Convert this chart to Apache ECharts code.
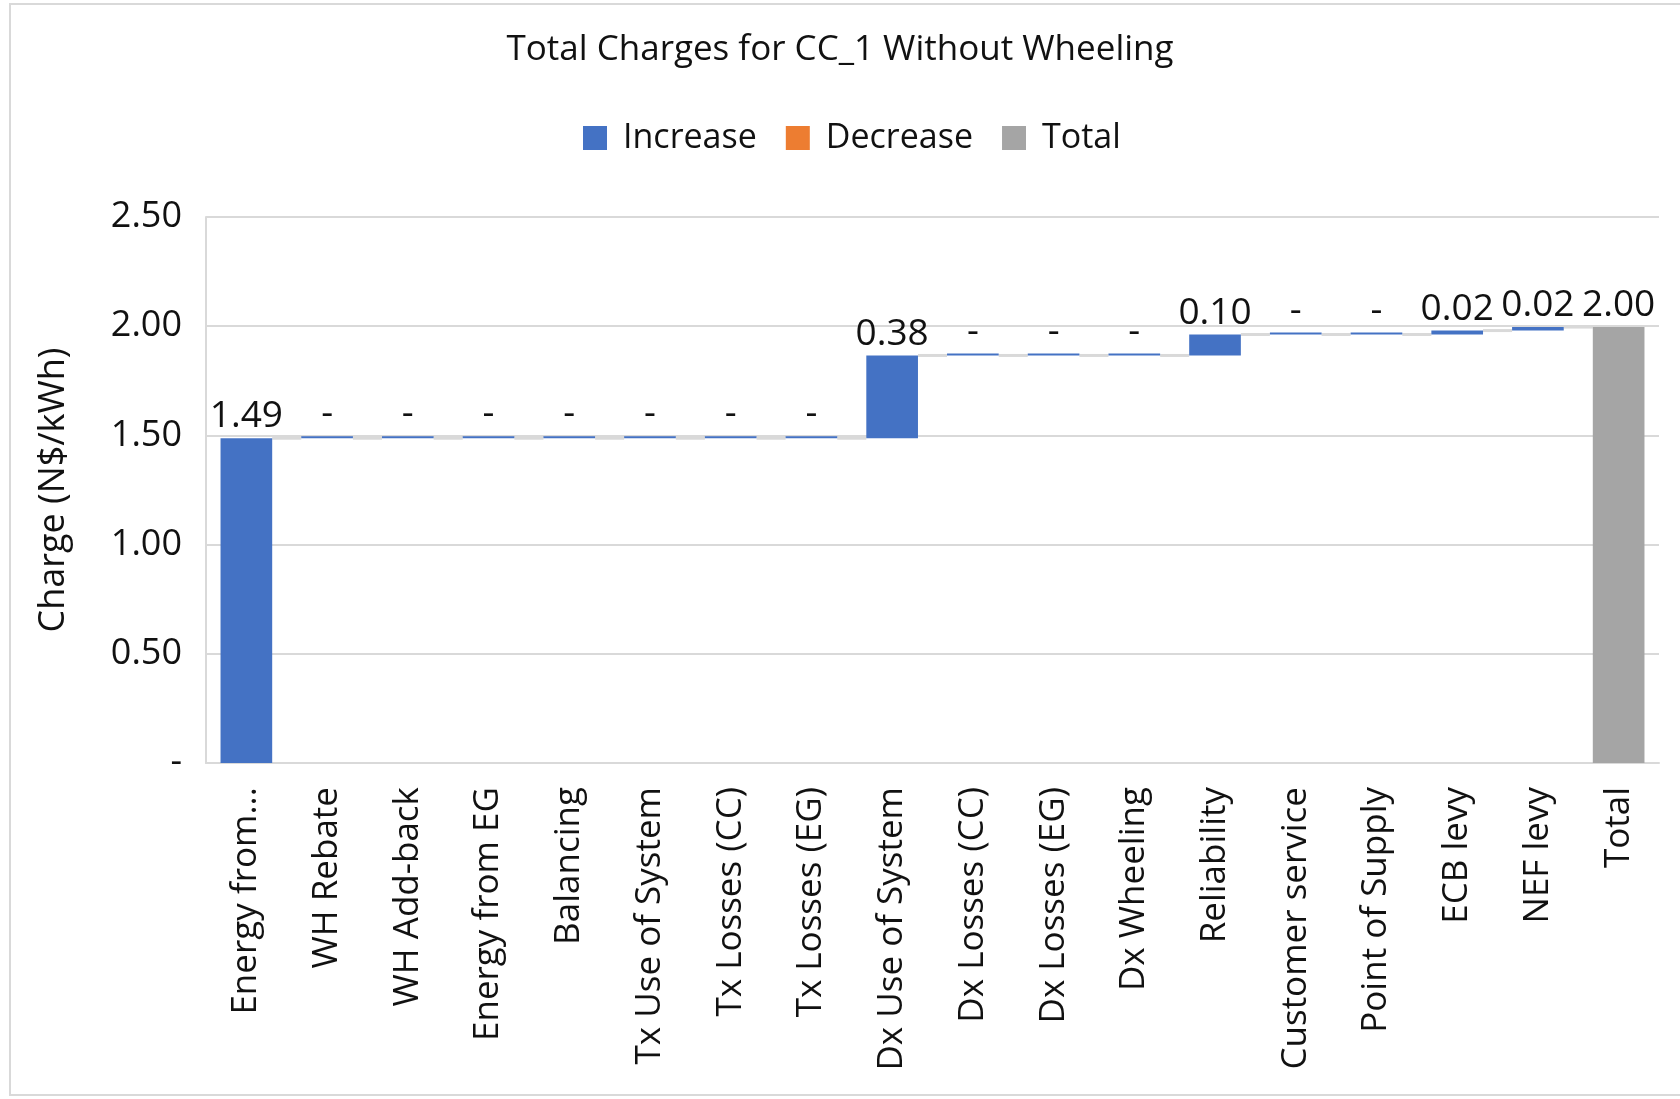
<!DOCTYPE html>
<html>
<head>
<meta charset="utf-8">
<title>Total Charges for CC_1 Without Wheeling</title>
<script src="https://cdn.jsdelivr.net/npm/echarts@6/dist/echarts.min.js"></script>
<style>
  html, body { margin: 0; padding: 0; background: #fff; }
  #chart { width: 1680px; height: 1099px; }
</style>
</head>
<body>
<div id="chart"></div>
<script>
// charge components, N$/kWh
const categories = ['Energy from...', 'WH Rebate', 'WH Add-back', 'Energy from EG', 'Balancing',
  'Tx Use of System', 'Tx Losses (CC)', 'Tx Losses (EG)', 'Dx Use of System', 'Dx Losses (CC)',
  'Dx Losses (EG)', 'Dx Wheeling', 'Reliability', 'Customer service', 'Point of Supply',
  'ECB levy', 'NEF levy', 'Total']
const changes = [1.487, 0, 0, 0, 0, 0, 0, 0, 0.379, 0, 0, 0, 0.096, 0, 0, 0.018, 0.016]
const totalValue = 1.996
const yTicks = [0, 0.5, 1, 1.5, 2, 2.5]

const font = 'Open Sans'
const textColor = '#111'

// running totals for the waterfall
const bases = []
const levels = []
let run = 0
changes.forEach((v, i) => {
  bases.push(run)
  run += v
  levels.push([i, run])
})

const placeholder = bases.concat([0])
const increase = changes.concat(['-'])
const decrease = categories.map(() => '-')
const total = categories.map((c, i) => i === categories.length - 1 ? totalValue : '-')

const fmt = v => (Math.abs(v) < 0.005 ? '-' : v.toFixed(2))
const barW = 0.64

const chart = echarts.init(document.getElementById('chart'))
chart.setOption({
  animation: false,
  textStyle: { fontFamily: font, color: textColor },
  graphic: [{
    type: 'rect',
    shape: { x: 10, y: 4, width: 1700, height: 1091 },
    style: { fill: 'none', stroke: '#d9d9d9', lineWidth: 2 },
    silent: true
  }],
  title: {
    text: 'Total Charges for CC_1 Without Wheeling',
    left: 'center',
    top: 28,
    textStyle: { fontFamily: font, fontSize: 35, fontWeight: 'normal', color: textColor }
  },
  legend: {
    data: ['Increase', 'Decrease', 'Total'],
    left: 578,
    top: 116,
    icon: 'rect',
    itemWidth: 24,
    itemHeight: 24,
    itemGap: 29,
    textStyle: { fontFamily: font, fontSize: 34, color: textColor, padding: [0, 0, 0, 11] }
  },
  grid: { left: 206, right: 21, top: 217, bottom: 336, containLabel: false },
  xAxis: {
    type: 'category',
    data: categories,
    axisTick: { show: false },
    axisLine: { lineStyle: { color: '#d9d9d9', width: 2 } },
    axisLabel: {
      interval: 0, rotate: 90, margin: 24,
      fontFamily: font, fontSize: 35, color: textColor
    }
  },
  yAxis: {
    type: 'value',
    min: yTicks[0],
    max: yTicks[yTicks.length - 1],
    interval: yTicks[1] - yTicks[0],
    name: 'Charge (N$/kWh)',
    nameLocation: 'middle',
    nameRotate: 90,
    nameGap: 134,
    nameTextStyle: { fontFamily: font, fontSize: 36, color: textColor },
    axisLine: { show: true, lineStyle: { color: '#d9d9d9', width: 2 } },
    axisTick: { show: false },
    axisLabel: {
      margin: 24, fontFamily: font, fontSize: 36, color: textColor,
      formatter: v => (v === 0 ? '-' : v.toFixed(2))
    },
    splitLine: { lineStyle: { color: '#d9d9d9', width: 2 } }
  },
  series: [
    {
      name: 'base', type: 'bar', stack: 'w', barWidth: barW * 100 + '%',
      data: placeholder,
      itemStyle: { color: 'transparent' },
      silent: true
    },
    {
      name: 'Increase', type: 'bar', stack: 'w', barWidth: barW * 100 + '%',
      data: increase,
      barMinHeight: 2,
      itemStyle: { color: '#4472C4' },
      label: {
        show: true, position: 'top', distance: 3,
        fontFamily: font, fontSize: 37, color: textColor,
        formatter: p => fmt(p.value)
      }
    },
    {
      name: 'Decrease', type: 'bar', stack: 'w', barWidth: barW * 100 + '%',
      data: decrease,
      itemStyle: { color: '#ED7D31' }
    },
    {
      name: 'Total', type: 'bar', stack: 'w', barWidth: barW * 100 + '%',
      data: total,
      itemStyle: { color: '#A5A5A5' },
      label: {
        show: true, position: 'top', distance: 3,
        fontFamily: font, fontSize: 37, color: textColor,
        formatter: p => fmt(p.value)
      }
    },
    {
      name: 'connectors', type: 'custom', silent: true, z: 1,
      data: levels,
      renderItem: (params, api) => {
        const p = api.coord([api.value(0), api.value(1)])
        const w = api.size([1, 0])[0]
        const bw = w * barW
        return {
          type: 'line',
          shape: { x1: p[0] + bw / 2, y1: p[1], x2: p[0] + w - bw / 2, y2: p[1] },
          style: { stroke: '#d9d9d9', lineWidth: 3 }
        }
      }
    }
  ]
})
</script>
</body>
</html>
